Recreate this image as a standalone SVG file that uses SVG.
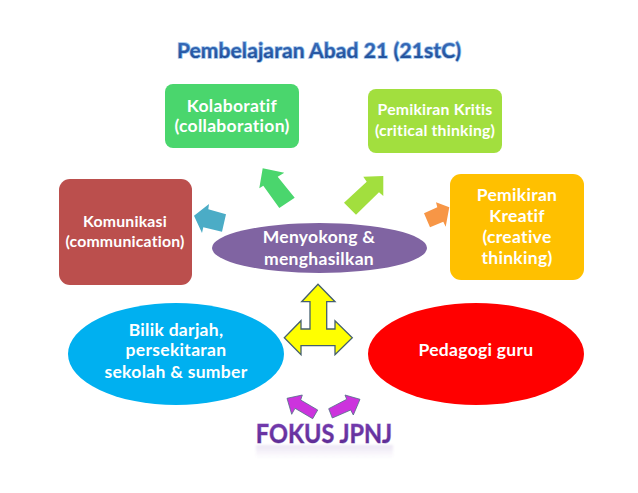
<svg xmlns="http://www.w3.org/2000/svg" width="638" height="493" viewBox="0 0 638 493">
<defs>
<linearGradient id="tg" x1="0" y1="0" x2="0" y2="1"><stop offset="0" stop-color="#3f74c4"/><stop offset="1" stop-color="#1d4a93"/></linearGradient>
<linearGradient id="fg" x1="0" y1="0" x2="0" y2="1"><stop offset="0" stop-color="#7a3fb5"/><stop offset="1" stop-color="#5a2a90"/></linearGradient>
<linearGradient id="rg" x1="0" y1="0" x2="0" y2="1"><stop offset="0" stop-color="#8a60b8" stop-opacity=".16"/><stop offset="1" stop-color="#8a60b8" stop-opacity="0"/></linearGradient>
<filter id="b" x="-10%" y="-50%" width="120%" height="200%"><feGaussianBlur stdDeviation="1.2"/></filter>
</defs>
<style>
text{font-family:"Lato","Liberation Sans",sans-serif;font-weight:700;text-anchor:middle;fill:#fff}
.m{font-size:17.500px;letter-spacing:.3px}
.s{font-size:15.800px;letter-spacing:.2px}
.a{stroke:none}
</style>
<rect width="638" height="493" fill="#fff"/>
<text x="319" y="58" font-size="21" letter-spacing=".1" style="fill:url(#tg);stroke:#9cc3ea;stroke-width:1.600px;paint-order:stroke" id="title">Pembelajaran Abad 21 (21stC)</text>
<g id="node-kolaboratif"><rect x="165" y="84" width="134" height="64" rx="8" fill="#4ad66d"/><text class="m" x="232" y="112">Kolaboratif</text><text class="m" x="232" y="132">(collaboration)</text></g>
<g id="node-kritis"><rect x="368" y="89" width="134" height="64" rx="8" fill="#a2df3e"/><text class="s" x="435" y="115">Pemikiran Kritis</text><text class="s" x="435" y="136">(critical thinking)</text></g>
<g id="node-kreatif"><rect x="450" y="174" width="134" height="106" rx="11" fill="#ffc000"/><text class="m" x="517" y="201">Pemikiran</text><text class="m" x="517" y="222">Kreatif</text><text class="m" x="517" y="243">(creative</text><text class="m" x="517" y="264">thinking)</text></g>
<g id="node-komunikasi"><rect x="59" y="179" width="133" height="106" rx="11" fill="#bb4f4d"/><text class="s" x="125" y="227">Komunikasi</text><text class="s" x="125" y="247">(communication)</text></g>
<g id="node-menyokong"><ellipse cx="319.500" cy="248" rx="107.500" ry="25" fill="#8064a2"/><text class="m" x="319" y="243">Menyokong &amp;</text><text class="m" x="319" y="265">menghasilkan</text></g>
<g id="node-bilik"><ellipse cx="176" cy="354" rx="108" ry="51" fill="#00b0f0"/><text class="m" x="176" y="336">Bilik darjah,</text><text class="m" x="176" y="356">persekitaran</text><text class="m" x="176" y="378">sekolah &amp; sumber</text></g>
<g id="node-pedagogi"><ellipse cx="476" cy="354" rx="108" ry="51" fill="#ff0000"/><text class="m" x="476" y="356">Pedagogi guru</text></g>
<g id="connectors">
<polygon class="a" fill="#4ad66d" points="262.700,168.300 284.300,172.700 277.700,176.700 294.700,197.700 279.300,208 263.300,185.700 259.300,188.300"/>
<polygon class="a" fill="#a2df3e" points="383.300,176 363.300,176.700 366.700,181.700 344,202.700 356,214.700 379,192.300 383.300,196"/>
<polygon class="a" fill="#4bacc6" points="194,215.700 209,204 208.300,209.300 226,214.300 222,231.700 203.300,227.300 202,233"/>
<polygon class="a" fill="#f79646" points="449.300,207.300 436,202.300 437.300,207.300 424,213.300 430,227.300 443.300,221.700 445.700,226.700"/>
<polygon fill="#ffff00" stroke="#45606e" stroke-width="1.300" stroke-linejoin="miter" points="318,284.300 301.700,301.700 310,301.700 310,329 301,329 301,320.700 284.300,337.700 301,354.700 301,345.700 335,345.700 335,354.700 352.300,337.700 335,320.700 335,329 326.700,329 326.700,301.700 335,301.700"/>
<polygon fill="#cc33dd" stroke="#4f6f86" stroke-width=".8" points="287,398.300 302.300,395 300.700,400 317.700,410 312.700,418.700 295,408.300 291.700,414.300"/>
<polygon fill="#cc33dd" stroke="#4f6f86" stroke-width=".8" points="360,399.300 345,395 346.700,399.300 328.700,408.700 332.300,418 350.700,410 353.300,415"/>
</g>
<g id="fokus">
<rect x="256" y="445" width="137" height="13" fill="url(#rg)" filter="url(#b)"/>
<text transform="translate(324 443) scale(1 1.120)" font-size="23.500" style="fill:url(#fg);stroke:#b9a2d6;stroke-width:.7px;paint-order:stroke">FOKUS JPNJ</text>
</g>
</svg>
